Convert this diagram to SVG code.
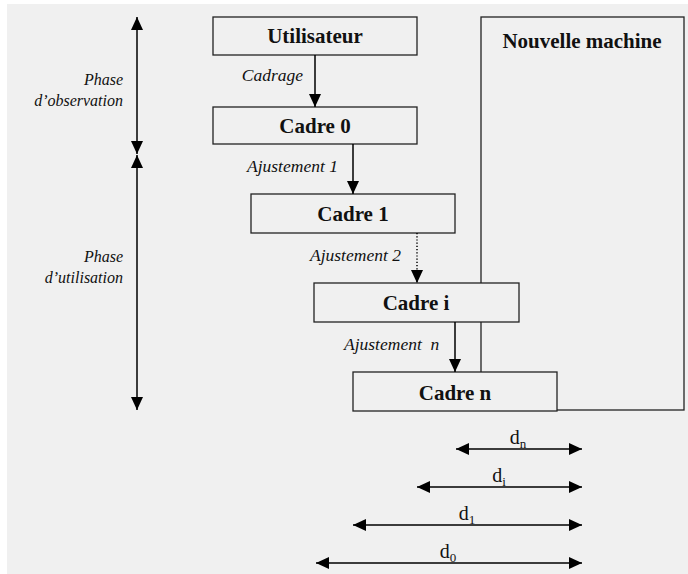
<svg xmlns="http://www.w3.org/2000/svg" width="688" height="574" viewBox="0 0 688 574">
<defs>
<marker id="ah" viewBox="0 0 13 12" refX="13" refY="6" markerWidth="13" markerHeight="12" markerUnits="userSpaceOnUse" orient="auto-start-reverse">
<path d="M0,0 L13,6 L0,12 Z" fill="#000"/>
</marker>
</defs>
<style>
text{font-family:"Liberation Serif","Times New Roman",Tinos,"DejaVu Serif","Noto Serif",serif}
.box{fill:#f0f0f0;stroke:#222;stroke-width:1.3}
.bt{font-weight:bold;font-size:21px;text-anchor:middle;fill:#111}
.it{font-style:italic;font-size:17.5px;fill:#111}
.ph{font-style:italic;font-size:16px;fill:#111;text-anchor:end}
.dl{font-size:20px;fill:#111;text-anchor:middle}
.ln{stroke:#000;stroke-width:1.5;fill:none}
</style>
<rect x="0" y="0" width="688" height="574" fill="#fff"/>
<rect x="7" y="4" width="681" height="570" fill="#f0f0f0"/>

<g id="nouvelle-machine">
<rect class="box" x="481" y="17" width="203" height="393"/>
<text class="bt" x="582" y="48">Nouvelle machine</text>
</g>

<g id="utilisateur">
<rect class="box" x="213" y="17" width="204" height="38"/>
<text class="bt" x="315" y="43">Utilisateur</text>
</g>
<g id="cadre0">
<rect class="box" x="213" y="107" width="204" height="37"/>
<text class="bt" x="315" y="133">Cadre 0</text>
</g>
<g id="cadre1">
<rect class="box" x="251" y="194" width="204" height="39"/>
<text class="bt" x="353" y="221">Cadre 1</text>
</g>
<g id="cadrei">
<rect class="box" x="314" y="283" width="205" height="39"/>
<text class="bt" x="416" y="310">Cadre i</text>
</g>
<g id="cadren">
<rect class="box" x="353" y="372" width="204" height="39"/>
<text class="bt" x="455" y="400">Cadre n</text>
</g>

<g id="connectors">
<line class="ln" x1="315" y1="55" x2="315" y2="107" marker-end="url(#ah)"/>
<line class="ln" x1="353" y1="144" x2="353" y2="194" marker-end="url(#ah)"/>
<line class="ln" x1="417" y1="233" x2="417" y2="283" stroke-width="1.2" stroke-dasharray="1.2,2" marker-end="url(#ah)"/>
<line class="ln" x1="455" y1="322" x2="455" y2="372" marker-end="url(#ah)"/>
<text class="it" x="303" y="81" text-anchor="end">Cadrage</text>
<text class="it" x="247" y="172">Ajustement 1</text>
<text class="it" x="310" y="261">Ajustement 2</text>
<text class="it" x="344" y="350" xml:space="preserve">Ajustement  n</text>

<line class="ln" x1="137" y1="17" x2="137" y2="154" marker-start="url(#ah)" marker-end="url(#ah)"/>
<line class="ln" x1="137" y1="155" x2="137" y2="410" marker-start="url(#ah)" marker-end="url(#ah)"/>
<text class="ph" x="123" y="85">Phase</text>
<text class="ph" x="123" y="106">d’observation</text>
<text class="ph" x="123" y="262">Phase</text>
<text class="ph" x="123" y="283">d’utilisation</text>

<line class="ln" x1="456" y1="449" x2="582" y2="449" marker-start="url(#ah)" marker-end="url(#ah)"/>
<line class="ln" x1="417" y1="487" x2="582" y2="487" marker-start="url(#ah)" marker-end="url(#ah)"/>
<line class="ln" x1="353" y1="525" x2="582" y2="525" marker-start="url(#ah)" marker-end="url(#ah)"/>
<line class="ln" x1="316" y1="563" x2="582" y2="563" marker-start="url(#ah)" marker-end="url(#ah)"/>
<text class="dl" x="518" y="444">d<tspan font-size="13" dy="4">n</tspan></text>
<text class="dl" x="499" y="482">d<tspan font-size="13" dy="4">i</tspan></text>
<text class="dl" x="467" y="520">d<tspan font-size="13" dy="4">1</tspan></text>
<text class="dl" x="448" y="558">d<tspan font-size="13" dy="4">0</tspan></text>
</g>
</svg>
